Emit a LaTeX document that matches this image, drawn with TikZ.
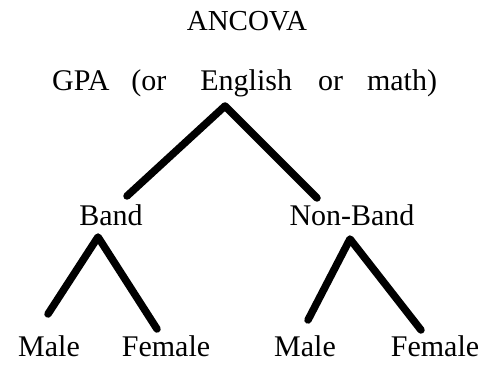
\documentclass[tikz,border=0pt]{standalone}
\usepackage{fontspec}
\setmainfont{Liberation Serif}
\begin{document}
\begin{tikzpicture}[x=1pt,y=-1pt,
  lbl/.style={anchor=base,inner sep=0pt,font=\fontsize{30}{36}\selectfont},
  branch/.style={line width=7.5pt,line cap=round,line join=round}]
\useasboundingbox (0,0) rectangle (488,366);
\node[lbl,font=\fontsize{29}{34}\selectfont] (title) at (247,31) {ANCOVA};
\node[lbl,anchor=base west] (gpa) at (52,91) {GPA\hspace{22pt}(or\hspace{34pt}English\hspace{26pt}or\hspace{24pt}math)};
\node[lbl] (band) at (111,226) {Band};
\node[lbl] (nonband) at (352,226) {Non-Band};
\node[lbl] (m1) at (49,357) {Male};
\node[lbl] (f1) at (166,357) {Female};
\node[lbl] (m2) at (305,357) {Male};
\node[lbl] (f2) at (435,357) {Female};
% connector ends
\coordinate (gpaTip) at (225,106);
\coordinate (bandTop) at (127,196);
\coordinate (nonbandTop) at (317,198);
\coordinate (bandTip) at (98,237);
\coordinate (m1Top) at (48,314);
\coordinate (f1Top) at (157,329);
\coordinate (nonbandTip) at (350,239);
\coordinate (m2Top) at (308,320);
\coordinate (f2Top) at (421,330);
\draw[branch] (bandTop) -- (gpaTip) -- (nonbandTop);
\draw[branch] (m1Top) -- (bandTip) -- (f1Top);
\draw[branch] (m2Top) -- (nonbandTip) -- (f2Top);
\end{tikzpicture}
\end{document}
